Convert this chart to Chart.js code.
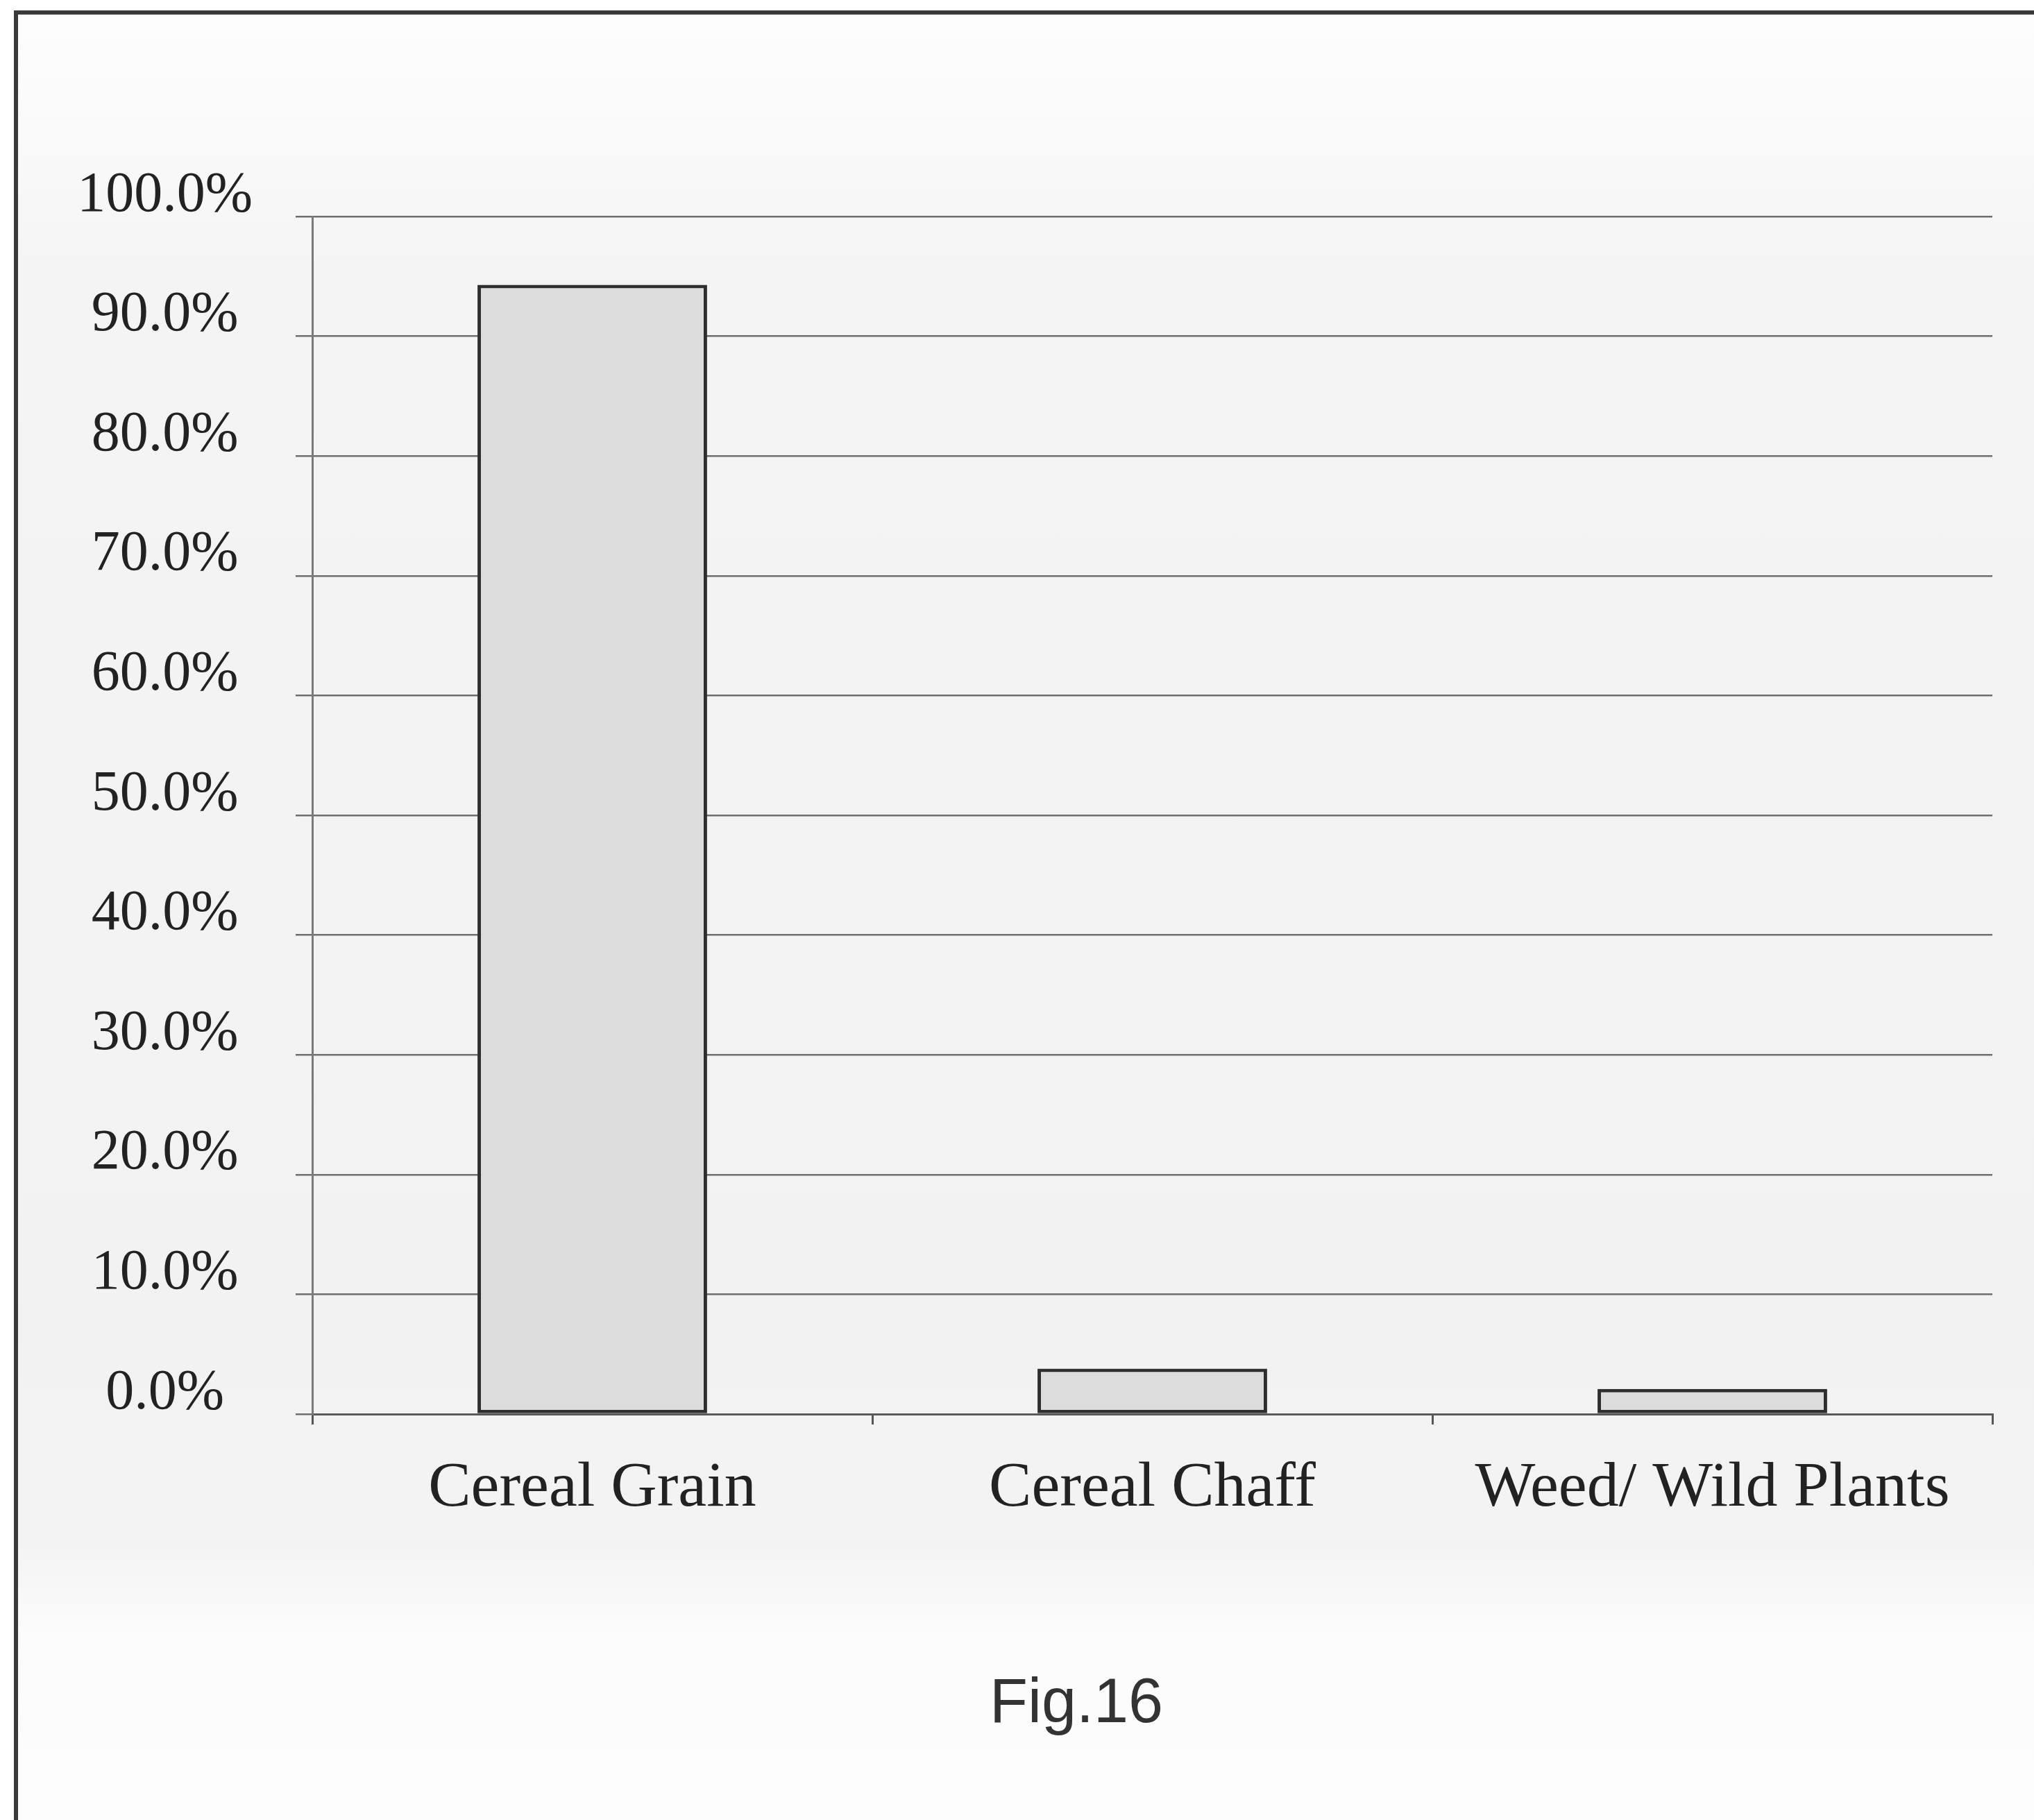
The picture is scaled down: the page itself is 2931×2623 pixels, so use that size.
<!DOCTYPE html>
<html>
<head>
<meta charset="utf-8">
<title>Fig.16</title>
<script src="https://cdn.jsdelivr.net/npm/chart.js@4/dist/chart.umd.min.js"></script>
<style>
  html, body { margin: 0; padding: 0; background: #ffffff; }
  body { width: 2931px; height: 2623px; position: relative; overflow: hidden; }
  #frame {
    position: absolute; left: 20px; top: 15px; right: 0; bottom: 0;
    border-left: 6px solid #3a3a3a; border-top: 6px solid #3a3a3a;
    background: linear-gradient(to bottom, #fdfdfd 0px, #fafafa 140px, #f4f4f4 380px,
                #f2f2f2 1900px, #f3f3f3 2200px, #fbfbfb 2330px, #fdfdfd 2600px);
  }
  #wrap { position: absolute; left: 0; top: 0; width: 2931px; height: 2623px; }
  #caption {
    position: absolute; left: 1551px; top: 2406px; transform: translateX(-50%);
    font-family: "Liberation Sans", Arial, sans-serif; font-size: 90px; line-height: 1;
    color: #333333; white-space: nowrap;
  }
</style>
</head>
<body>
<div id="frame"></div>
<div id="wrap"><canvas id="chart" width="2931" height="2623"></canvas></div>
<div id="caption">Fig.16</div>
<script>
// Share of charred plant remains by category (percent)
const categories = ['Cereal Grain', 'Cereal Chaff', 'Weed/ Wild Plants'];
const shares = [94.3, 3.8, 2.1];
const yTickValues = [0, 10, 20, 30, 40, 50, 60, 70, 80, 90, 100];
const yTickLabels = ['0.0%', '10.0%', '20.0%', '30.0%', '40.0%', '50.0%',
                     '60.0%', '70.0%', '80.0%', '90.0%', '100.0%'];

const serif = '"Liberation Serif", "Times New Roman", serif';

new Chart(document.getElementById('chart'), {
  type: 'bar',
  data: {
    labels: categories,
    datasets: [{
      data: shares,
      backgroundColor: '#dcdcdc',
      borderColor: '#2e2e2e',
      borderWidth: 5,
      borderSkipped: false,
      barPercentage: 0.41,
      categoryPercentage: 1.0
    }]
  },
  options: {
    responsive: false,
    animation: false,
    devicePixelRatio: 1,
    layout: { padding: { left: 0, top: 312, right: 60, bottom: 0 } },
    plugins: {
      legend: { display: false },
      tooltip: { enabled: false },
      title: { display: false }
    },
    scales: {
      x: {
        offset: true,
        grid: {
          display: true,
          offset: true,
          drawOnChartArea: false,
          drawTicks: true,
          tickLength: 15,
          color: '#555555',
          lineWidth: 3
        },
        border: { display: true, color: '#5a5a5a', width: 3 },
        ticks: {
          font: { family: serif, size: 92 },
          color: '#222222',
          padding: 38,
          maxRotation: 0,
          autoSkip: false
        },
        afterFit: (scale) => { scale.height = 585; }
      },
      y: {
        min: 0,
        max: 100,
        afterBuildTicks: (scale) => {
          scale.ticks = yTickValues.map(v => ({ value: v }));
        },
        grid: {
          color: '#6e6e6e',
          lineWidth: 2.5,
          drawTicks: true,
          tickLength: 24
        },
        border: { display: true, color: '#7a7a7a', width: 3 },
        ticks: {
          font: { family: serif, size: 82 },
          color: '#222222',
          crossAlign: 'center',
          padding: 62,
          labelOffset: -30,
          callback: (value, index) => yTickLabels[index]
        },
        afterFit: (scale) => { scale.width = 450; }
      }
    }
  }
});
</script>
</body>
</html>
